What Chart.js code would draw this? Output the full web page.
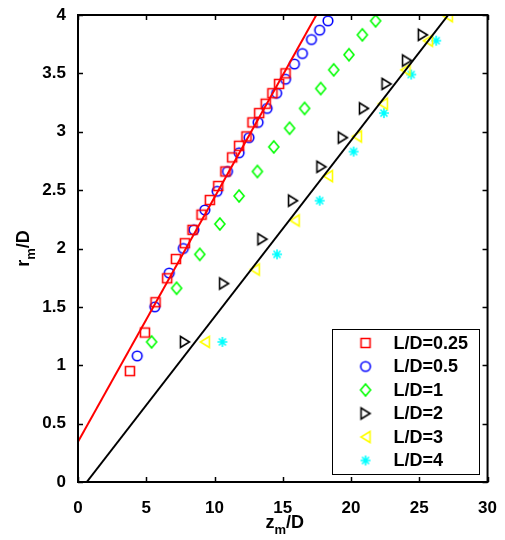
<!DOCTYPE html>
<html lang="en">
<head>
<meta charset="UTF-8" />
<title>Spreading radius r_m/D against z_m/D</title>
<script src="https://cdn.jsdelivr.net/npm/chart.js@4.4.1/dist/chart.umd.min.js"></script>
<style>
  html, body { margin: 0; padding: 0; background: #fff; }
  #chart { display: block; }
</style>
</head>
<body>
<canvas id="chart" width="505" height="540"></canvas>

<script>
// measured points, one pair of arrays per L/D case
const ld025X = [3.8, 4.9, 5.68, 6.53, 7.17, 7.83, 8.39, 9.05, 9.66, 10.27, 10.8, 11.29, 11.8, 12.34, 12.78, 13.27, 13.75, 14.24, 14.73, 15.2]
const ld025Y = [0.95, 1.28, 1.54, 1.745, 1.91, 2.045, 2.16, 2.29, 2.415, 2.535, 2.66, 2.78, 2.88, 2.96, 3.08, 3.16, 3.24, 3.33, 3.41, 3.5]

const ld05X = [4.34, 5.63, 6.68, 7.71, 8.49, 9.29, 10.19, 10.95, 11.8, 12.53, 13.19, 13.85, 14.55, 15.2, 15.85, 16.44, 17.1, 17.7, 18.31]
const ld05Y = [1.08, 1.5, 1.79, 2.0, 2.16, 2.33, 2.49, 2.66, 2.82, 2.95, 3.08, 3.2, 3.33, 3.45, 3.58, 3.67, 3.79, 3.87, 3.95]

const ld1X = [5.39, 7.22, 8.92, 10.39, 11.8, 13.14, 14.34, 15.5, 16.6, 17.78, 18.73, 19.85, 20.83, 21.8]
const ld1Y = [1.2, 1.66, 1.95, 2.21, 2.45, 2.66, 2.87, 3.03, 3.2, 3.37, 3.53, 3.66, 3.83, 3.95]

const ld2X = [7.83, 10.7, 13.51, 15.75, 17.83, 19.4, 20.95, 22.6, 24.1, 25.26]
const ld2Y = [1.2, 1.7, 2.08, 2.41, 2.7, 2.95, 3.2, 3.41, 3.61, 3.83]

const ld3X = [9.29, 12.95, 15.87, 18.31, 20.43, 22.33, 23.99, 25.63, 27.09]
const ld3Y = [1.2, 1.82, 2.24, 2.62, 2.96, 3.24, 3.53, 3.78, 3.99]

const ld4X = [10.58, 14.58, 17.7, 20.19, 22.41, 24.41, 26.24]
const ld4Y = [1.2, 1.95, 2.41, 2.83, 3.16, 3.49, 3.78]

// straight-line fits (end points)
const fitNearX = [0, 17.46]
const fitNearY = [0.345, 4]
const fitFarX = [0.64, 27.12]
const fitFarY = [0, 4]

const xTicks = [0, 5, 10, 15, 20, 25, 30]
const yTicks = [0, 0.5, 1, 1.5, 2, 2.5, 3, 3.5, 4]

const labels = ['L/D=0.25', 'L/D=0.5', 'L/D=1', 'L/D=2', 'L/D=3', 'L/D=4']

const FONT = '"Liberation Sans", Arial, Helvetica, sans-serif'

function zip(xs, ys) {
  return xs.map((x, i) => ({ x: x, y: ys[i] }))
}

// matlab-like hollow markers drawn on small canvases
function marker(shape, color) {
  const c = document.createElement('canvas')
  c.width = 18
  c.height = 18
  const g = c.getContext('2d')
  g.strokeStyle = color
  g.lineWidth = 1.6
  g.beginPath()
  switch (shape) {
    case 'square':
      g.rect(4.5, 4.5, 9, 9)
      break
    case 'circle':
      g.arc(9, 9, 4.8, 0, 2 * Math.PI)
      break
    case 'diamond':
      g.moveTo(9, 3); g.lineTo(14, 9); g.lineTo(9, 15); g.lineTo(4, 9); g.closePath()
      break
    case 'right':
      g.moveTo(4.5, 3.5); g.lineTo(13.5, 9); g.lineTo(4.5, 14.5); g.closePath()
      break
    case 'left':
      g.moveTo(13.5, 3.5); g.lineTo(4.5, 9); g.lineTo(13.5, 14.5); g.closePath()
      break
    case 'star':
      g.moveTo(9, 4); g.lineTo(9, 14)
      g.moveTo(4, 9); g.lineTo(14, 9)
      g.moveTo(5.5, 5.5); g.lineTo(12.5, 12.5)
      g.moveTo(12.5, 5.5); g.lineTo(5.5, 12.5)
      break
  }
  g.stroke()
  return c
}

function pointSet(label, xs, ys, shape, color) {
  return {
    label: label,
    data: zip(xs, ys),
    showLine: false,
    pointStyle: marker(shape, color),
    borderColor: color,
    backgroundColor: color
  }
}

function fitLine(xs, ys, color) {
  return {
    label: '',
    data: zip(xs, ys),
    showLine: true,
    borderColor: color,
    borderWidth: 2,
    pointRadius: 0,
    fill: false,
    isFit: true
  }
}

// box, inward ticks on all four sides
const framePlugin = {
  id: 'frame',
  afterDatasetsDraw(chart) {
    const { ctx, chartArea: a, scales } = chart
    ctx.save()
    ctx.strokeStyle = '#000'
    ctx.lineWidth = 2
    ctx.strokeRect(a.left, a.top, a.right - a.left, a.bottom - a.top)
    ctx.lineWidth = 1.5
    ctx.beginPath()
    xTicks.forEach(v => {
      const px = Math.round(scales.x.getPixelForValue(v)) + 0.5
      ctx.moveTo(px, a.bottom); ctx.lineTo(px, a.bottom - 5)
      ctx.moveTo(px, a.top); ctx.lineTo(px, a.top + 5)
    })
    yTicks.forEach(v => {
      const py = Math.round(scales.y.getPixelForValue(v)) + 0.5
      ctx.moveTo(a.left, py); ctx.lineTo(a.left + 5, py)
      ctx.moveTo(a.right, py); ctx.lineTo(a.right - 5, py)
    })
    ctx.stroke()
    ctx.restore()
  }
}

// text with a subscript, e.g. z_m/D
function drawSubLabel(ctx, base, sub, rest, cx, cy) {
  const big = 'bold 18px ' + FONT
  const small = 'bold 13px ' + FONT
  ctx.font = big
  const w1 = ctx.measureText(base).width
  const w3 = ctx.measureText(rest).width
  ctx.font = small
  const w2 = ctx.measureText(sub).width
  let x = cx - (w1 + w2 + w3) / 2
  ctx.textAlign = 'left'
  ctx.textBaseline = 'alphabetic'
  ctx.font = big
  ctx.fillText(base, x, cy)
  x += w1
  ctx.font = small
  ctx.fillText(sub, x, cy + 6)
  x += w2
  ctx.font = big
  ctx.fillText(rest, x, cy)
}

const titlePlugin = {
  id: 'axisTitles',
  afterDraw(chart) {
    const { ctx, chartArea: a } = chart
    ctx.save()
    ctx.fillStyle = '#000'
    drawSubLabel(ctx, 'z', 'm', '/D', (a.left + a.right) / 2 + 2, 528)
    ctx.translate(29, (a.top + a.bottom) / 2)
    ctx.rotate(-Math.PI / 2)
    drawSubLabel(ctx, 'r', 'm', '/D', 0, 0)
    ctx.restore()
  }
}

// legend box in the lower right corner of the plot
const legendPlugin = {
  id: 'boxLegend',
  afterDraw(chart) {
    const { ctx, chartArea: a } = chart
    const sets = chart.data.datasets.filter(d => !d.isFit)
    const w = 147, rowH = 23.5
    const h = sets.length * rowH + 4
    const right = a.right - 9, bottom = a.bottom - 8
    const left = right - w, top = bottom - h
    ctx.save()
    ctx.fillStyle = '#fff'
    ctx.fillRect(left, top, w, h)
    ctx.strokeStyle = '#000'
    ctx.lineWidth = 1
    ctx.strokeRect(Math.round(left) + 0.5, Math.round(top) + 0.5, w, h)
    ctx.font = 'bold 18px ' + FONT
    ctx.fillStyle = '#000'
    ctx.textAlign = 'left'
    ctx.textBaseline = 'middle'
    sets.forEach((d, i) => {
      const cy = top + 14 + i * rowH
      const img = d.pointStyle
      ctx.drawImage(img, left + 34 - img.width / 2, cy - img.height / 2)
      ctx.fillText(d.label, left + 62, cy + 1)
    })
    ctx.restore()
  }
}

const tickFont = { family: FONT, size: 17, weight: 'bold' }

new Chart(document.getElementById('chart').getContext('2d'), {
  type: 'scatter',
  data: {
    datasets: [
      fitLine(fitNearX, fitNearY, '#ff0000'),
      fitLine(fitFarX, fitFarY, '#000000'),
      pointSet(labels[0], ld025X, ld025Y, 'square', '#ff0000'),
      pointSet(labels[1], ld05X, ld05Y, 'circle', '#0000ff'),
      pointSet(labels[2], ld1X, ld1Y, 'diamond', '#00ff00'),
      pointSet(labels[3], ld2X, ld2Y, 'right', '#000000'),
      pointSet(labels[4], ld3X, ld3Y, 'left', '#ffff00'),
      pointSet(labels[5], ld4X, ld4Y, 'star', '#00ffff')
    ]
  },
  options: {
    responsive: false,
    animation: false,
    layout: { padding: { left: 0, right: 17, top: 15, bottom: 0 } },
    plugins: {
      legend: { display: false },
      tooltip: { enabled: false }
    },
    scales: {
      x: {
        type: 'linear',
        min: 0,
        max: 30,
        afterBuildTicks: s => { s.ticks = xTicks.map(v => ({ value: v })) },
        afterFit: s => { s.height = 58 },
        grid: { display: false },
        border: { display: false },
        ticks: { color: '#000', font: tickFont, padding: 8, maxRotation: 0, callback: v => String(v) }
      },
      y: {
        type: 'linear',
        min: 0,
        max: 4,
        afterBuildTicks: s => { s.ticks = yTicks.map(v => ({ value: v })) },
        afterFit: s => { s.width = 78 },
        grid: { display: false },
        border: { display: false },
        ticks: { color: '#000', font: tickFont, padding: 4, callback: v => String(v) }
      }
    }
  },
  plugins: [framePlugin, titlePlugin, legendPlugin]
})
</script>
</body>
</html>
